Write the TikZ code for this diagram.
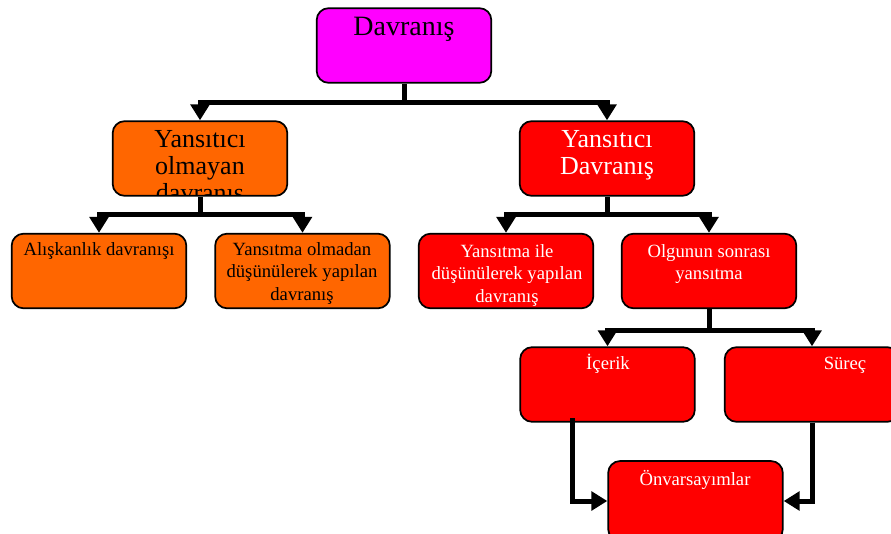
\documentclass[tikz,border=0pt]{standalone}
\usepackage{fontspec}
\setmainfont{Liberation Serif}
\usepackage{xcolor}
\usetikzlibrary{arrows.meta}

\definecolor{boxmag}{HTML}{FF00FF}
\definecolor{boxorange}{HTML}{FF6600}
\definecolor{boxred}{HTML}{FF0000}

\begin{document}
\begin{tikzpicture}[
        x=0.75pt, y=-0.75pt,
        box/.style={draw, rounded corners=9pt, line width=1.3pt, inner sep=0pt,
                    minimum width=131pt, minimum height=56pt},
        txt/.style={anchor=north, inner sep=0pt, align=center},
        big/.style={font=\fontsize{21}{24}\selectfont},
        mid/.style={font=\fontsize{19.5}{20.5}\selectfont},
        small/.style={font=\fontsize{14}{17}\selectfont},
        conn/.style={line width=3.75pt},
        arr/.style={line width=3.75pt, -{Triangle[width=14pt,length=12pt]}},
    ]
        \clip (0,0) rectangle (891,534);
        % boxes
        \node[box, fill=boxmag] (davr) at (404,45.5) {};
        \node[box, fill=boxorange] (yo) at (200,158.5) {};
        \node[box, fill=boxred] (yd) at (607,158.5) {};
        \node[box, fill=boxorange] (ali) at (99,271) {};
        \node[box, fill=boxorange] (yom) at (302.5,271) {};
        \node[box, fill=boxred] (yile) at (506,271) {};
        \node[box, fill=boxred] (olg) at (709,271) {};
        \node[box, fill=boxred] (ice) at (607.5,384.5) {};
        \node[box, fill=boxred] (sur) at (812,384.5) {};
        \node[box, fill=boxred, minimum height=60pt] (onv) at (695.5,501) {};
        % texts
        \node[txt, big] (davrT) at (404,17) {Davranış};
        \begin{scope}
            \clip ([xshift=2pt,yshift=2pt]yo.south west) rectangle ([xshift=-2pt,yshift=-2pt]yo.north east);
            \node[txt, mid] (yoT) at (200,130) {Yansıtıcı\\olmayan\\davranış};
        \end{scope}
        \node[txt, mid, text=white] (ydT) at (607,130) {Yansıtıcı\\Davranış};
        \node[txt, small] (aliT) at (99,242) {Alışkanlık davranışı};
        \node[txt, small] (yomT) at (302,242) {Yansıtma olmadan\\düşünülerek yapılan\\davranış};
        \node[txt, small, text=white] (yileT) at (507,244) {Yansıtma ile\\düşünülerek yapılan\\davranış};
        \node[txt, small, text=white] (olgT) at (709,244) {Olgunun sonrası\\yansıtma};
        \node[txt, small, text=white] (iceT) at (608,354) {İçerik};
        \node[txt, small, text=white] (surT) at (845,357) {Süreç};
        \node[txt, small, text=white] (onvT) at (695,470) {Önvarsayımlar};
        % connectors
        \coordinate (j1) at (404,103);
        \coordinate (j2) at (200,215);
        \coordinate (j3) at (607,215);
        \coordinate (j4) at (709,330);
        \coordinate (iceOut) at (572,418);
        \draw[conn] (davr.south) -- (j1);
        \draw[arr] (j1) -| (yo.north);
        \draw[arr] (j1) -| (yd.north);
        \draw[conn] (yo.south) -- (j2);
        \draw[arr] (j2) -| (ali.north);
        \draw[arr] (j2) -| (yom.north);
        \draw[conn] (yd.south) -- (j3);
        \draw[arr] (j3) -| (yile.north);
        \draw[arr] (j3) -| (olg.north);
        \draw[conn] (olg.south) -- (j4);
        \draw[arr] (j4) -| (ice.north);
        \draw[arr] (j4) -| (sur.north);
        \draw[arr] (iceOut) |- (onv.west);
        \draw[arr] (sur.south) |- (onv.east);
    \end{tikzpicture}
\end{document}
